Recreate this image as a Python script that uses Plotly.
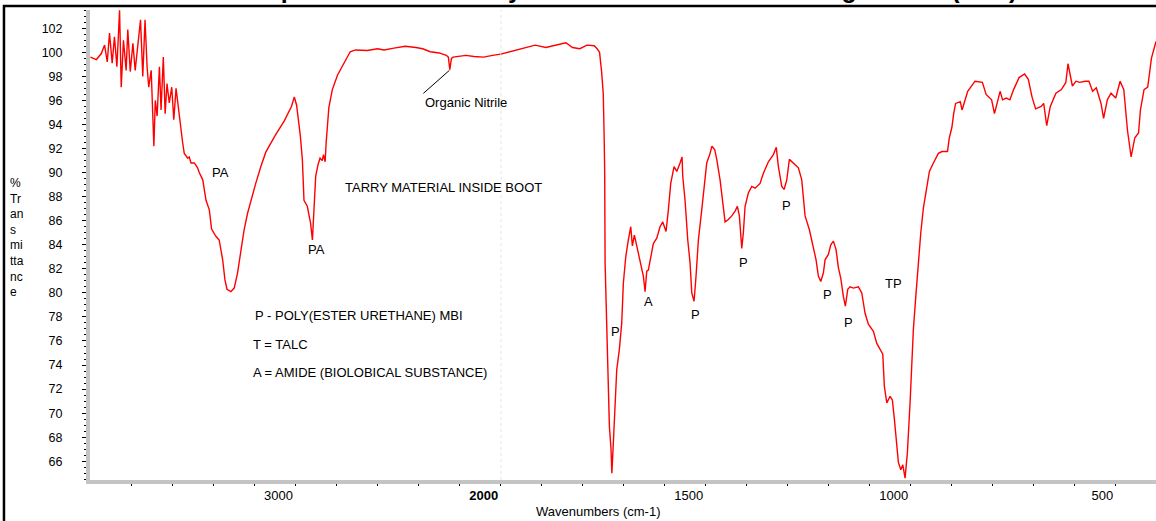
import plotly.graph_objects as go

# ---------------- data ----------------
# 4000-2000 cm-1 part of the spectrum (compressed scale)
wn_hi = [3998, 3969, 3945, 3929, 3916, 3905, 3892, 3881, 3869, 3856, 3848, 3837, 3824, 3816,
         3804, 3791, 3780, 3767, 3754, 3743, 3732, 3722, 3714, 3702, 3694, 3689, 3682, 3673,
         3662, 3654, 3643, 3634, 3625, 3614, 3602, 3592, 3581, 3573, 3562, 3557, 3549, 3541,
         3524, 3517, 3508, 3492, 3476, 3468, 3451, 3435, 3419, 3408, 3387, 3371, 3354, 3343,
         3333, 3314, 3298, 3282, 3266, 3250, 3233, 3217, 3193, 3168, 3144, 3098, 3054, 3019,
         3005, 2994, 2976, 2966, 2958, 2942, 2926, 2917, 2910, 2901, 2889, 2880, 2869, 2863,
         2855, 2850, 2837, 2820, 2795, 2759, 2733, 2707, 2650, 2600, 2568, 2520, 2465, 2413,
         2380, 2343, 2300, 2265, 2255, 2248, 2240, 2232, 2200, 2170, 2130, 2083, 2040, 2000]
t_hi = [99.6, 99.4, 99.9, 100.6, 99.2, 101.6, 99.1, 101.3, 98.8, 103.5, 97.1, 101.0, 98.5, 101.9,
        98.4, 100.75, 98.5, 100.6, 102.7, 98.0, 102.7, 98.8, 97.1, 98.5, 93.3, 92.2, 96.0, 94.7,
        98.8, 95.2, 99.6, 94.9, 97.4, 95.8, 97.1, 94.4, 97.0, 95.8, 94.1, 93.3, 92.5, 91.6,
        91.2, 91.3, 90.8, 90.8, 90.4, 90.0, 89.4, 87.7, 86.9, 85.3, 84.7, 84.4, 82.75, 81.1,
        80.3, 80.1, 80.4, 81.6, 83.6, 85.2, 86.6, 87.7, 89.1, 90.5, 91.7, 93.1, 94.3, 95.5,
        96.3, 95.6, 93.1, 91.1, 87.7, 87.2, 85.8, 84.4, 86.9, 89.7, 90.7, 91.2, 91.0, 91.5,
        90.9, 92.5, 95.4, 96.9, 98.1, 99.3, 100.05, 100.2, 100.15, 100.3, 100.2, 100.35, 100.5, 100.4,
        100.3, 100.05, 99.95, 99.75, 99.6, 98.55, 99.5, 99.6, 99.7, 99.75, 99.65, 99.6, 99.75, 99.85]

# 2000-400 cm-1 part of the spectrum (expanded scale)
wn_lo = [2000, 1994, 1946, 1916, 1890, 1868, 1841, 1825, 1807, 1790, 1772, 1765, 1759, 1754,
         1750, 1748, 1746.5, 1745.5, 1743, 1739, 1735, 1731, 1729, 1725.4, 1721.2, 1717.1, 1710.7,
         1704.9, 1701, 1695.1, 1688.8, 1682.9, 1679, 1674.1, 1668.3, 1662.7, 1657.8, 1652.2, 1648,
         1643.9, 1640, 1634.1, 1627.8, 1619.5, 1611.5, 1604.9, 1596.8, 1591.2, 1585.4, 1577.3,
         1570.7, 1562.7, 1557.8, 1556.1, 1550.5, 1543.9, 1538.3, 1534.1, 1528.5, 1523.7, 1518,
         1509.8, 1504.1, 1497.6, 1489.5, 1485, 1478, 1473.2, 1465.1, 1458.5, 1452.9, 1444.9,
         1436.6, 1428.5, 1422.9, 1418, 1412.2, 1408.3, 1404.1, 1396.1, 1387.8, 1379.8, 1367.6,
         1359.5, 1347.3, 1335.1, 1328, 1322.9, 1314.6, 1309, 1302.4, 1296.1, 1286.3, 1274.1,
         1265.9, 1257.8, 1247.3, 1239, 1231, 1225.4, 1219.5, 1213.2, 1209, 1201, 1195.1, 1188.8,
         1182.2, 1176.6, 1170.7, 1164.4, 1159.5, 1153.7, 1148, 1140, 1127.8, 1119.5, 1111.5,
         1103.4, 1091.2, 1082.9, 1074.9, 1068.3, 1064.4, 1058.5, 1050.5, 1044.9, 1040, 1035.9,
         1030.2, 1024.4, 1019.5, 1013.9, 1008.3, 1001.7, 997.6, 993.7, 987.1, 981.5, 975.6, 969.3,
         961, 954.6, 944.9, 932.7, 924, 910.5, 906, 899.8, 895.4, 890.7, 879.3, 874.9, 870.2,
         861.2, 843.4, 825.4, 816.3, 802.9, 795.9, 789.5, 782.2, 776.1, 767.1, 758.3, 749.3,
         735.9, 722.4, 713.4, 704.4, 695.6, 682.2, 675.9, 668.5, 659.8, 646.1, 632.7, 621.9,
         616.6, 605.9, 597.1, 588, 574.6, 565.6, 556.6, 547.6, 536.1, 529.8, 520.7, 511.7, 500.2,
         489.5, 480.5, 471.5, 462.7, 453.7, 444.6, 440, 431.2, 422.2, 413.2, 404.1, 402]
t_lo = [99.85, 99.9, 100.3, 100.6, 100.4, 100.6, 100.8, 100.4, 100.3, 100.6, 100.55, 100.3, 100.0, 98.4,
        96.6, 93.4, 90.2, 82.5, 78.9, 75.6, 68.9, 67.0, 65.0, 67.5, 70.9, 73.6, 75.3,
        77.5, 80.8, 83.0, 84.4, 85.5, 83.9, 84.8, 83.9, 83.0, 82.5, 81.4, 80.1,
        81.8, 81.9, 83.0, 84.1, 84.55, 85.5, 85.9, 85.1, 86.9, 89.1, 90.5,
        90.1, 90.8, 91.3, 89.7, 87.7, 84.4, 82.5, 80.0, 79.3, 81.4, 84.4,
        86.9, 88.7, 90.8, 91.6, 92.2, 91.9, 91.1, 89.4, 87.5, 85.9, 86.1,
        86.4, 86.8, 87.2, 86.4, 83.7, 85.0, 87.2, 88.3, 88.85, 88.7, 89.1,
        89.95, 90.9, 91.5, 92.1, 90.5, 88.85, 88.6, 89.4, 91.1, 90.8, 90.4,
        89.4, 86.4, 85.25, 83.9, 82.75, 81.4, 80.95, 81.65, 82.75, 83.2, 84.0, 84.3,
        83.6, 82.1, 81.2, 79.7, 78.9, 80.3, 80.5, 80.4, 80.5, 80.0, 78.3,
        77.4, 76.8, 75.8, 75.3, 74.9, 72.2, 70.85, 71.4, 71.1, 69.5, 67.8,
        65.9, 65.3, 65.7, 64.6, 66.7, 70.9, 73.9, 76.95, 80.0, 82.5, 85.0, 87.05,
        88.6, 90.1, 90.8, 91.6, 91.75, 91.75, 92.9, 93.75, 94.9, 95.75, 95.9, 95.2, 95.75,
        96.76, 97.6, 97.5, 96.5, 96.05, 94.9, 95.75, 96.76, 96.05, 96.2, 96.05, 96.9,
        97.9, 98.2, 97.76, 96.3, 95.3, 95.5, 95.75, 93.9, 95.5, 96.6, 96.9, 97.5,
        99.05, 97.2, 97.6, 97.5, 97.6, 97.6, 96.76, 97.05, 95.75, 94.5, 96.05, 96.6, 96.2,
        97.6, 96.9, 93.5, 91.3, 92.9, 93.3, 95.2, 96.9, 97.1, 99.5, 100.6, 100.9]

# axis ticks
x_hi_ticks = [3000]
x_hi_minor = [3800, 3600, 3400, 3200, 2800, 2600, 2400, 2200]
x_lo_ticks = [2000, 1500, 1000, 500]
x_lo_ticktext = ["<b>2000</b>", "1500", "1000", "500"]

# texts
title_text = "Infrared Spectrum of the Tarry Material from Inside the Right Boot (ATR)"
y_title = "%<br>Tr<br>an<br>s<br>mi<br>tta<br>nc<br>e"
x_title = "Wavenumbers (cm-1)"

# peak labels: (text, wavenumber, %T)
labels_hi = [("PA", 3363, 90.0), ("PA", 2897, 83.6)]
labels_lo = [("P", 1721, 76.75), ("A", 1640, 79.3), ("P", 1524, 78.2), ("P", 1407, 82.5),
             ("P", 1303, 87.3), ("P", 1202, 79.9), ("P", 1151, 77.55), ("TP", 1042, 80.8)]
notes_hi = [("TARRY MATERIAL INSIDE BOOT", 2770, 88.8),
            ("P - POLY(ESTER URETHANE) MBI", 3207, 78.1),
            ("T = TALC", 3217, 75.7),
            ("A = AMIDE (BIOLOBICAL SUBSTANCE)", 3217, 73.4)]
nitrile = ("Organic Nitrile", 2250, 98.5)

FONT = "Liberation Sans, Arial, sans-serif"
RED = "#ff0000"
AXGRAY = "#c4c4c4"

fig = go.Figure()
fig.add_trace(go.Scatter(x=wn_hi, y=t_hi, mode="lines", line=dict(color=RED, width=1.4),
                         xaxis="x", yaxis="y", showlegend=False, hoverinfo="skip"))
fig.add_trace(go.Scatter(x=wn_lo, y=t_lo, mode="lines", line=dict(color=RED, width=1.4),
                         xaxis="x2", yaxis="y", showlegend=False, hoverinfo="skip"))

split = 0.3853
common_x = dict(showline=True, linecolor=AXGRAY, linewidth=4, showgrid=False, zeroline=False,
                ticks="outside", ticklen=2, tickwidth=1, tickcolor="#000",
                tickfont=dict(family=FONT, size=13, color="#000"),
                ticklabelposition="outside left", automargin=False, fixedrange=True)

fig.update_layout(
    width=1156, height=521,
    margin=dict(l=90, r=0, t=10, b=40.5, autoexpand=False),
    paper_bgcolor="white", plot_bgcolor="white",
    font=dict(family=FONT, size=13, color="#000"),
    xaxis=dict(domain=[0, split], range=[4000, 2000], tickmode="array", tickvals=x_hi_ticks,
               minor=dict(tickmode="array", tickvals=x_hi_minor, ticks="outside", ticklen=2,
                          tickwidth=1, tickcolor="#000"),
               anchor="y", **common_x),
    xaxis2=dict(domain=[split, 1], range=[2000, 402], tickmode="array", tickvals=x_lo_ticks,
                ticktext=x_lo_ticktext,
                minor=dict(dtick=100, ticks="outside", ticklen=2, tickwidth=1, tickcolor="#000"),
                anchor="y", **common_x),
    yaxis=dict(range=[64.44, 103.52], dtick=2, tick0=0, showline=True, linecolor=AXGRAY,
               linewidth=4, showgrid=False, zeroline=False, ticks="outside", ticklen=4,
               tickwidth=1, tickcolor="#000",
               minor=dict(dtick=0.5, ticks="outside", ticklen=2, tickwidth=1, tickcolor="#000"),
               tickfont=dict(family=FONT, size=12.5, color="#000"), ticklabelstandoff=17,
               anchor="x", automargin=False, fixedrange=True),
)

# dotted line at the scale break
fig.add_shape(type="line", xref="x2", yref="paper", x0=2000, x1=2000, y0=0, y1=1,
              line=dict(color="#bdbdbd", width=1, dash="dot"))
# outer black frame
fig.add_shape(type="rect", xref="paper", yref="paper", x0=-0.0807, x1=1.2, y0=-0.4, y1=1.0085,
              line=dict(color="#000", width=2.5), fillcolor="rgba(0,0,0,0)")

ann = []
for txt, x, y in labels_hi:
    ann.append(dict(text=txt, x=x, y=y, xref="x", yref="y", showarrow=False,
                    font=dict(size=13)))
for txt, x, y in labels_lo:
    ann.append(dict(text=txt, x=x, y=y, xref="x2", yref="y", showarrow=False,
                    font=dict(size=13)))
for txt, x, y in notes_hi:
    ann.append(dict(text=txt, x=x, y=y, xref="x", yref="y", showarrow=False, xanchor="left",
                    font=dict(size=13)))
ann.append(dict(text=nitrile[0], x=nitrile[1], y=nitrile[2], xref="x", yref="y",
                showarrow=True, arrowhead=0, arrowwidth=1, arrowcolor="#000",
                ax=-26, ay=23, xanchor="left", yanchor="top", standoff=0,
                font=dict(size=13)))
ann.append(dict(text=y_title, x=-0.0765, y=0.5165, xref="paper", yref="paper",
                showarrow=False, xanchor="left", yanchor="middle", align="left",
                font=dict(size=12)))
ann.append(dict(text=x_title, x=0.4765, y=-0.067, xref="paper", yref="paper",
                showarrow=False, xanchor="center", yanchor="middle", font=dict(size=13)))
ann.append(dict(text="<b>" + title_text + "</b>", x=0.4695, y=1.0117, xref="paper", yref="paper",
                showarrow=False, xanchor="center", yanchor="bottom", font=dict(size=25)))
fig.update_layout(annotations=ann)

# the page's default 8px body margin would shift the figure; remove it
fig.write_html("out.html", config={"displayModeBar": False},
               post_script="document.body.style.margin='0';")
